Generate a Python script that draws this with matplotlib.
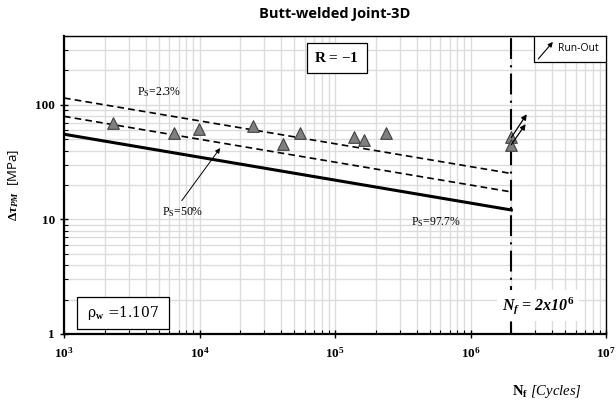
import numpy as np
import matplotlib
matplotlib.use('Agg')
import matplotlib.pyplot as plt
from matplotlib.ticker import LogLocator, FixedLocator, NullFormatter, FuncFormatter

plt.rcParams['mathtext.fontset'] = 'custom'
plt.rcParams['mathtext.rm'] = 'Liberation Serif'
plt.rcParams['mathtext.it'] = 'Liberation Serif:italic:bold'
plt.rcParams['mathtext.bf'] = 'Liberation Serif:bold'

# test results (cycles, stress range in MPa)
cycles = [2.3e3, 6.45e3, 9.9e3, 2.5e4, 4.13e4, 5.5e4, 1.39e5, 1.64e5, 2.37e5, 2.0e6, 2.0e6]
stress = [69, 57, 62, 65, 45.5, 57, 53, 49.5, 57, 52, 45]

# run-outs: start and end of the arrows
runout_start = [(2.0e6, 52), (2.0e6, 45)]
runout_end = [(2.6e6, 83), (2.55e6, 68)]

# design curves, end points at 1e3 and 2e6 cycles
curve_n = [1e3, 2e6]
curve_977 = [55.5, 12.1]
curve_50 = [79.5, 17.4]
curve_23 = [115, 25.2]

n_knee = 2e6

fig = plt.figure(figsize=(6.16, 4.04), dpi=100)
ax = fig.add_axes([0.1039, 0.1733, 0.8799, 0.7376])
ax.set_xscale('log')
ax.set_yscale('log')
ax.set_xlim(1e3, 1e7)
ax.set_ylim(1, 400)

ax.grid(True, which='both', color='#dcdcdc', lw=1.0, zorder=0)
ax.set_axisbelow(True)

ax.plot(curve_n, curve_977, color='black', lw=2.2, zorder=3)
ax.plot(curve_n, curve_50, color='black', lw=1.2, ls=(0, (4, 2.5)), zorder=3)
ax.plot(curve_n, curve_23, color='black', lw=1.2, ls=(0, (4, 2.5)), zorder=3)

ax.axvline(n_knee, color='black', lw=1.5, ls=(4, (10, 3, 1, 3)), zorder=4)

ax.scatter(cycles, stress, marker='^', s=70, facecolor='#7f7f7f',
           edgecolor='#404040', lw=0.8, zorder=5)

for s, e in zip(runout_start, runout_end):
    ax.annotate('', xy=e, xytext=s,
                arrowprops=dict(arrowstyle='-|>', color='black', lw=0.9,
                                mutation_scale=8, shrinkA=0, shrinkB=0),
                zorder=6)

# curve labels
ps_font = dict(fontsize=8.5, family='Liberation Serif', va='center')
ax.text(3.46e3, 130, r'P$_\mathrm{S}$=2.3%', **ps_font)
ax.text(5.3e3, 11.7, r'P$_\mathrm{S}$=50%', **ps_font)
ax.text(3.64e5, 9.4, r'P$_\mathrm{S}$=97.7%', **ps_font)
ax.annotate('', xy=(1.42e4, 42), xytext=(7.4e3, 14.6),
            arrowprops=dict(arrowstyle='-|>', color='black', lw=0.7,
                            mutation_scale=7, shrinkA=0, shrinkB=0))

# R-ratio box
ax.add_patch(plt.Rectangle((0.448, 0.876), 0.111, 0.101, transform=ax.transAxes,
                           fc='white', ec='black', lw=0.9, zorder=7))
ax.text(0.5035, 0.926, r'R = $-$1', transform=ax.transAxes, ha='center', va='center',
        fontsize=11, fontweight='bold', family='Liberation Serif', zorder=8)

# weld quality box
ax.add_patch(plt.Rectangle((0.024, 0.017), 0.170, 0.107, transform=ax.transAxes,
                           fc='white', ec='black', lw=0.9, zorder=7))
ax.text(0.109, 0.072, r'ρ$_\mathbf{w}$ =1.107', transform=ax.transAxes, ha='center',
        va='center', fontsize=10, family='DejaVu Serif', zorder=8)

ax.text(0.875, 0.095, r'$N_f$ = 2x10$^\mathbf{6}$', transform=ax.transAxes,
        ha='center', va='center', fontsize=11.5, fontweight='bold', style='italic',
        family='Liberation Serif',
        bbox=dict(boxstyle='square,pad=0.3', fc='white', ec='none'), zorder=7)

# run-out legend
ax.add_patch(plt.Rectangle((0.867, 0.913), 0.133, 0.087, transform=ax.transAxes,
                           fc='white', ec='black', lw=0.9, zorder=7))
ax.text(0.948, 0.957, 'Run-Out', transform=ax.transAxes, ha='center', va='center',
        fontsize=7.5, family='Open Sans', zorder=8)
ax.annotate('', xy=(0.902, 0.980), xytext=(0.875, 0.923), xycoords='axes fraction',
            arrowprops=dict(arrowstyle='-|>', color='black', lw=0.8,
                            mutation_scale=7, shrinkA=0, shrinkB=0), zorder=8)

# ticks
ax.yaxis.set_major_locator(FixedLocator([1, 10, 100]))
ax.yaxis.set_major_formatter(FuncFormatter(lambda v, p: '%d' % v))
ax.yaxis.set_minor_locator(LogLocator(base=10, subs=np.arange(2, 10)))
ax.yaxis.set_minor_formatter(NullFormatter())
ax.xaxis.set_major_locator(LogLocator(base=10, numticks=10))
ax.xaxis.set_major_formatter(FuncFormatter(lambda v, p: r'$\mathbf{10^{%d}}$' % round(np.log10(v))))
ax.xaxis.set_minor_locator(LogLocator(base=10, subs=np.arange(2, 10), numticks=20))
ax.xaxis.set_minor_formatter(NullFormatter())
ax.tick_params(which='major', direction='inout', length=6, width=1, labelsize=9.5)
ax.tick_params(which='minor', direction='in', length=3, width=0.8)
ax.tick_params(axis='x', which='major', pad=6)
for lab in ax.get_yticklabels():
    lab.set_fontfamily('Liberation Serif')
    lab.set_fontweight('bold')

for side in ['left', 'bottom']:
    ax.spines[side].set_linewidth(1.6)
for side in ['top', 'right']:
    ax.spines[side].set_linewidth(1.0)

ax.set_title('Butt-welded Joint-3D', fontsize=10.5, fontweight='bold', family='Open Sans', pad=13)
ax.set_ylabel(r'$\mathbf{\Delta}\tau_{PM}$  [MPa]', fontsize=9.5, family='Open Sans', labelpad=10)
fig.text(0.888, 0.03, r'$\mathbf{N_f}$ [Cycles]', ha='center', va='center',
         fontsize=10.5, style='italic', family='Liberation Serif')

fig.savefig('out.png', dpi=100)
